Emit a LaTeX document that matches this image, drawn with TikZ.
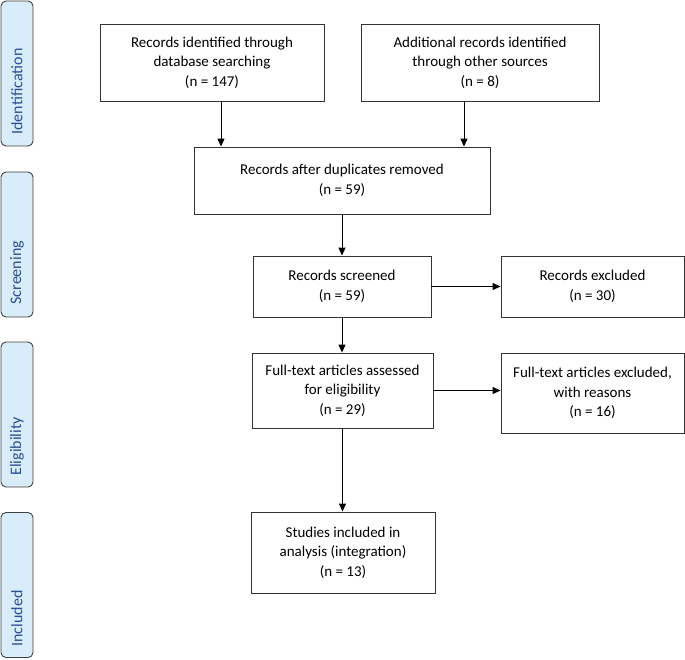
\documentclass[tikz,border=0pt]{standalone}
\usepackage{fontspec}
\setmainfont{Carlito}
\usetikzlibrary{arrows.meta}
\definecolor{tabfill}{HTML}{D8ECF9}
\definecolor{tabtext}{HTML}{2B4F94}
\begin{document}
\begin{tikzpicture}[x=1pt,y=-1pt,
  box/.style={draw=black!80,line width=0.9pt,align=center,inner sep=0pt,font=\fontsize{15}{19.5}\selectfont},
  tab/.style={draw=black!75,line width=0.9pt,fill=tabfill,rounded corners=5pt,minimum width=32pt,minimum height=145pt,inner sep=0pt},
  tablabel/.style={rotate=90,anchor=west,text=tabtext,font=\fontsize{16}{18}\selectfont},
  arr/.style={-{Triangle[length=8pt,width=7pt]},line width=1pt}]
\useasboundingbox (0,0) rectangle (685,659);
% phase tabs
\node[tab] (tabid) at (17,73.5) {};
\node[tablabel] (labid) at (17,138) {Identification};
\node[tab] (tabscr) at (17,244.5) {};
\node[tablabel] (labscr) at (17,308) {Screening};
\node[tab] (tabel) at (17,414.5) {};
\node[tablabel] (label) at (17,479) {Eligibility};
\node[tab] (tabinc) at (17,585) {};
\node[tablabel] (labinc) at (17,650) {Included};
% boxes
\node[box,minimum width=224pt,minimum height=77pt] (dbsearch) at (212,62.5) {Records identified through\\database searching\\(n = 147)};
\node[box,minimum width=238pt,minimum height=77pt] (other) at (480,62.5) {Additional records identified\\through other sources\\(n = 8)};
\node[box,minimum width=296pt,minimum height=67pt] (dedup) at (342,180.5) {Records after duplicates removed\\(n = 59)};
\node[box,minimum width=178pt,minimum height=61pt] (screened) at (342,286.5) {Records screened\\(n = 59)};
\node[box,minimum width=183pt,minimum height=61pt] (excl) at (592.5,286.5) {Records excluded\\(n = 30)};
\node[box,minimum width=181pt,minimum height=75pt] (fulltext) at (342.5,390.5) {Full-text articles assessed\\for eligibility\\(n = 29)};
\node[box,minimum width=183pt,minimum height=80pt] (ftexcl) at (592.5,393) {Full-text articles excluded,\\with reasons\\(n = 16)};
\node[box,minimum width=184pt,minimum height=81pt] (incl) at (343,552.5) {Studies included in\\analysis (integration)\\(n = 13)};
% arrows
\draw[arr] ([xshift=9pt]dbsearch.south) -- ([xshift=9pt]dbsearch.south |- dedup.north);
\draw[arr] ([xshift=-16pt]other.south) -- ([xshift=-16pt]other.south |- dedup.north);
\draw[arr] (dedup.south) -- (dedup.south |- screened.north);
\draw[arr] (screened.south) -- (screened.south |- fulltext.north);
\draw[arr] (fulltext.south) -- (fulltext.south |- incl.north);
\draw[arr] (screened.east) -- (screened.east -| excl.west);
\draw[arr] (fulltext.east) -- (fulltext.east -| ftexcl.west);
\end{tikzpicture}
\end{document}
